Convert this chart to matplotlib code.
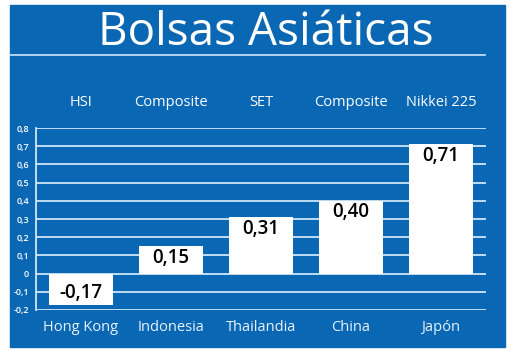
import matplotlib.pyplot as plt
from matplotlib.patches import Rectangle
from matplotlib.lines import Line2D

# data
paises = ['Hong Kong', 'Indonesia', 'Thailandia', 'China', 'Japón']
indices = ['HSI', 'Composite', 'SET', 'Composite', 'Nikkei 225']
valores = [-0.17, 0.15, 0.31, 0.40, 0.71]
yticks = [-0.2, -0.1, 0, 0.1, 0.2, 0.3, 0.4, 0.5, 0.6, 0.7, 0.8]

azul = '#0a67b4'
linea = '#cfe6f8'
W, H = 520, 351

plt.rcParams['font.family'] = ['Open Sans', 'DejaVu Sans']

fig = plt.figure(figsize=(W / 100, H / 100), dpi=100)
fig.patch.set_facecolor('white')

# blue panel
fig.patches.append(Rectangle((10 / W, 1 - 347 / H), 495 / W, 342 / H,
                             transform=fig.transFigure, color=azul, zorder=-2))
fig.lines.append(Line2D([10 / W, 485 / W], [1 - 55 / H, 1 - 55 / H],
                        transform=fig.transFigure, color=linea, lw=1.2, zorder=-1))
fig.text(266 / W, 1 - 33 / H, 'Bolsas Asiáticas', color='white', fontsize=33,
         ha='center', va='center', fontweight='medium')

ax = fig.add_axes([36 / W, 1 - 310 / H, 450 / W, 182 / H])
ax.set_facecolor('none')
ax.set_xlim(-0.5, 4.5)
ax.set_ylim(-0.2, 0.8)

for t in yticks:
    ax.axhline(t, color=linea, lw=1.3, zorder=1)

x = range(len(valores))
ax.bar(x, valores, width=0.72, color='white', zorder=2)

for i, v in enumerate(valores):
    txt = f'{v:.2f}'.replace('.', ',')
    if v < 0:
        ax.annotate(txt, (i, v), xytext=(0, 1), textcoords='offset points',
                    ha='center', va='bottom', fontsize=13.5, fontweight='semibold',
                    color='black', zorder=3)
    else:
        ax.annotate(txt, (i, v), xytext=(0, -1), textcoords='offset points',
                    ha='center', va='top', fontsize=13.5, fontweight='semibold',
                    color='black', zorder=3)
    ax.text(i, 1.14, indices[i], transform=ax.get_xaxis_transform(),
            ha='center', va='center', fontsize=10.5, fontweight='medium', color='white')
    ax.text(i, -0.095, paises[i], transform=ax.get_xaxis_transform(),
            ha='center', va='center', fontsize=10.5, color='#e6f2fc')

ax.set_yticks(yticks)
ax.set_yticklabels([f'{t:.1f}'.replace('.', ',') if t != 0 else '0' for t in yticks],
                   fontsize=6.5, fontweight='semibold', color='white')
ax.tick_params(axis='y', length=0, pad=5)
ax.set_xticks([])
for s in ['top', 'right', 'bottom']:
    ax.spines[s].set_visible(False)
ax.spines['left'].set_color(linea)
ax.spines['left'].set_linewidth(1.3)

fig.savefig('out.png', dpi=100)
